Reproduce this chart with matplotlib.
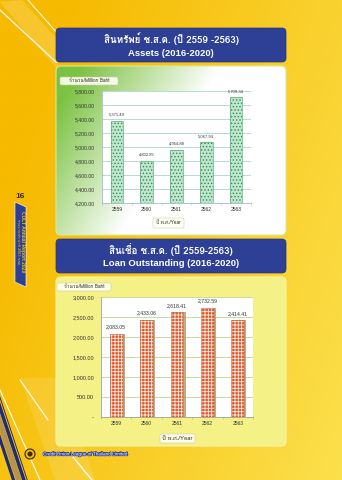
import numpy as np
import matplotlib.pyplot as plt
from matplotlib import font_manager
from matplotlib.ft2font import FT2Font
from matplotlib.patches import FancyBboxPatch, Polygon, Circle
import matplotlib.patheffects as pe

# data
years = ['2559', '2560', '2561', '2562', '2563']
assets = [5371.49, 4802.85, 4954.88, 5067.94, 5709.34]
loans = [2083.05, 2433.06, 2618.41, 2732.59, 2414.41]
asset_ticks = [4200, 4400, 4600, 4800, 5000, 5200, 5400, 5600, 5800]
loan_ticks = [0, 500, 1000, 1500, 2000, 2500, 3000]


def find_thai_font():
    # pick any installed font that has Thai glyphs
    for f in font_manager.fontManager.ttflist:
        try:
            if 0x0E2A in FT2Font(f.fname).get_charmap():
                return f.name
        except Exception:
            pass
    return 'DejaVu Sans'


THAI = [find_thai_font(), 'DejaVu Sans']
LAT = ['Liberation Sans', 'DejaVu Sans']
plt.rcParams['hatch.linewidth'] = 0.6

W, H = 342, 480
fig = plt.figure(figsize=(W / 100, H / 100), dpi=100)

# ---- page background (pixel coordinates, y downwards) ----
bg = fig.add_axes([0, 0, 1, 1])
bg.set_xlim(0, W)
bg.set_ylim(H, 0)
bg.axis('off')

xx, yy = np.meshgrid(np.linspace(0, 1, 200), np.linspace(0, 1, 280))
t = np.clip(0.75 * xx + 0.35 * yy - 0.15, 0, 1)[..., None]
c0 = np.array([246, 186, 0]) / 255
c1 = np.array([252, 226, 80]) / 255
bg.imshow(c0 * (1 - t) + c1 * t, extent=(0, W, H, 0), aspect='auto', zorder=0)

# decorative stripes
bg.add_patch(Polygon([(0, 2), (22, 0), (58, 40), (58, 70)], fc='white', alpha=0.18, ec='none', zorder=1))
bg.plot([0, 56], [10, 62], color='white', lw=1.0, alpha=0.9, zorder=1)
bg.plot([28, 58], [0, 34], color='white', lw=0.8, alpha=0.9, zorder=1)
bg.add_patch(Polygon([(20, 378), (60, 378), (95, 480), (55, 480)], fc='white', alpha=0.12, ec='none', zorder=1))
k = 0.33
for y0, w, col in [(396, 3, '#1E2B78'), (402, 11, '#1E2B78'), (414, 18, '#B8944A'), (434, 10, '#1E2B78')]:
    bg.add_patch(Polygon([(0, y0), (0, y0 + w), ((H - y0 - w) * k, H), ((H - y0) * k, H)],
                         fc=col, ec='none', zorder=1))
bg.plot([0, 40], [390, 480], color='white', lw=0.8, zorder=1)
bg.plot([20, 48], [380, 420], color='white', lw=0.8, zorder=1)
bg.plot([73, 92], [457, 480], color='white', lw=1.0, zorder=1)

# title boxes
for ty, l1, l2 in [(28, 'สินทรัพย์ ช.ส.ค. (ปี 2559 -2563)', 'Assets (2016-2020)'),
                   (239, 'สินเชื่อ ช.ส.ค. (ปี 2559-2563)', 'Loan Outstanding (2016-2020)')]:
    bg.add_patch(FancyBboxPatch((56, ty), 230, 34, boxstyle='round,pad=0,rounding_size=4',
                                fc='#2E3F96', ec='#25337F', lw=0.5, zorder=2))
    bg.text(171, ty + 11, l1, family=THAI, fontsize=7, color='white', fontweight='bold',
            ha='center', va='center', zorder=3)
    bg.text(171, ty + 25, l2, family=LAT, fontsize=6.8,
            color='white', fontweight='bold', ha='center', va='center', zorder=3)

# panel 1 : green to white
p1 = FancyBboxPatch((56, 66), 230, 169, boxstyle='round,pad=0,rounding_size=5',
                    fc='none', ec='#D9E8A0', lw=0.8, zorder=3)
bg.add_patch(p1)
gx, gy = np.meshgrid(np.linspace(56, 286, 200), np.linspace(66, 235, 160))
s = (gx - 56) + 0.6 * (gy - 66)
g = np.clip((s - 25) / 140, 0, 1)[..., None]
green = np.array([124, 194, 66]) / 255
im = bg.imshow(green * (1 - g) + g, extent=(56, 286, 235, 66), aspect='auto', zorder=2)
im.set_clip_path(p1)

# panel 2 : pale yellow
bg.add_patch(FancyBboxPatch((56, 277), 230, 169, boxstyle='round,pad=0,rounding_size=5',
                            fc='#F4F187', ec='#F7F3A8', lw=0.8, zorder=2))

# small label boxes
for x0, y0, w, h, txt, fs in [(60, 77, 58, 8, 'จำนวน/Million Baht', 3.4),
                              (57, 283, 54, 8, 'จำนวน/Million Baht', 3.4),
                              (153, 218, 31, 10, 'ปี พ.ศ./Year', 3.4),
                              (160, 434, 35, 9, 'ปี พ.ศ./Year', 4.2)]:
    bg.add_patch(FancyBboxPatch((x0, y0), w, h, boxstyle='round,pad=0,rounding_size=1.5',
                                fc='#FFFFF0', ec='#C8C8B0', lw=0.4, alpha=0.9, zorder=3))
    bg.text(x0 + w / 2, y0 + h / 2, txt, family=THAI, fontsize=fs, color='#333333',
            ha='center', va='center', zorder=4)

# side tab
bg.add_patch(Polygon([(15, 202), (26, 207), (26, 287), (15, 282)], fc='#2E3F96',
                     ec='white', lw=0.4, zorder=3))
bg.text(20, 197, '16', fontsize=6, fontweight='bold', color='#3A2A10', ha='center',
        va='center', family=LAT, zorder=4)
bg.text(18, 242, 'รายงานประจำปี 2563 ชสอ.', family=THAI, fontsize=2.8, color='#F5C400',
        rotation=-90, ha='center', va='center', zorder=4)
bg.text(22.5, 242, 'CULT Annual Report 2020', family=LAT, fontsize=3.6, fontweight='bold',
        color='#F5C400', rotation=-90, ha='center', va='center', zorder=4)

# footer logo
bg.add_patch(Circle((30, 454), 5, fc='#F2B705', ec='#3A2A10', lw=0.8, zorder=3))
bg.add_patch(Circle((30, 454), 2.5, fc='#3A2A10', ec='none', zorder=4))
bg.plot([118, 128], [454, 454], color='#9A9A9A', lw=0.8, zorder=3)
bg.text(43, 454, 'Credit Union League of Thailand Limited', family=LAT, fontsize=3.4,
        color='white', va='center', zorder=4,
        path_effects=[pe.withStroke(linewidth=1.0, foreground='#2E3F96')])

x = np.arange(len(years))


def style_axis(ax, grid_color, spine_color):
    ax.set_facecolor('white')
    ax.set_xlim(-0.5, len(years) - 0.5)
    ax.set_xticks(x)
    ax.set_xticklabels(years)
    ax.set_xticks(np.arange(-0.5, len(years)), minor=True)
    ax.tick_params(axis='x', which='major', length=0, pad=3, labelsize=3.6, labelcolor='#333333')
    ax.tick_params(axis='x', which='minor', length=1.5, width=0.4, color=spine_color)
    ax.tick_params(axis='y', length=0, pad=5, labelsize=3.7, labelcolor='#333333')
    for lab in ax.get_xticklabels() + ax.get_yticklabels():
        lab.set_family(LAT)
    ax.grid(axis='y', color=grid_color, lw=0.6)
    ax.set_axisbelow(True)
    for side in ['top', 'right']:
        ax.spines[side].set_visible(False)
    for side in ['left', 'bottom']:
        ax.spines[side].set_color(spine_color)
        ax.spines[side].set_linewidth(0.6)


# ---- chart 1 : assets ----
ax1 = fig.add_axes([102 / W, 1 - 203 / H, 149 / W, 112 / H])
ax1.bar(x, assets, width=0.42, color='#C2E5CB', hatch='.....', edgecolor='#23925A', lw=0, zorder=2)
ax1.bar(x, assets, width=0.42, fill=False, edgecolor='#5DB07A', lw=0.5, zorder=3)
ax1.set_ylim(4200, 5800)
ax1.set_yticks(asset_ticks)
ax1.set_yticklabels([f'{v:,.2f}' for v in asset_ticks])
style_axis(ax1, '#A9D6CF', '#9DBDCB')
for xi, v in zip(x, assets):
    ax1.annotate(f'{v:,.2f}', (xi, v), xytext=(0, 3), textcoords='offset points',
                 ha='center', va='bottom', fontsize=3.0, color='#333333', family=LAT)

# ---- chart 2 : loans ----
ax2 = fig.add_axes([101 / W, 1 - 417 / H, 152 / W, 120 / H])
ax2.bar(x + 0.07, loans, width=0.42, color='#A89C6A', alpha=0.8, lw=0, zorder=1.5)
ax2.bar(x, loans, width=0.42, color='#E4572E', hatch='+++++', edgecolor='#FCEFE4', lw=0, zorder=2)
ax2.bar(x, loans, width=0.42, fill=False, edgecolor='#C0704A', lw=0.4, zorder=3)
ax2.set_ylim(0, 3000)
ax2.set_yticks(loan_ticks)
ax2.set_yticklabels(['-' if v == 0 else f'{v:,.2f}' for v in loan_ticks])
style_axis(ax2, '#B9D88C', '#A0A0A0')
ax2.tick_params(axis='y', labelsize=4.0)
for xi, v in zip(x, loans):
    ax2.annotate(f'{v:,.2f}', (xi, v), xytext=(0, 3), textcoords='offset points',
                 ha='center', va='bottom', fontsize=3.7, color='#333333', family=LAT)

fig.savefig('out.png', dpi=100)
